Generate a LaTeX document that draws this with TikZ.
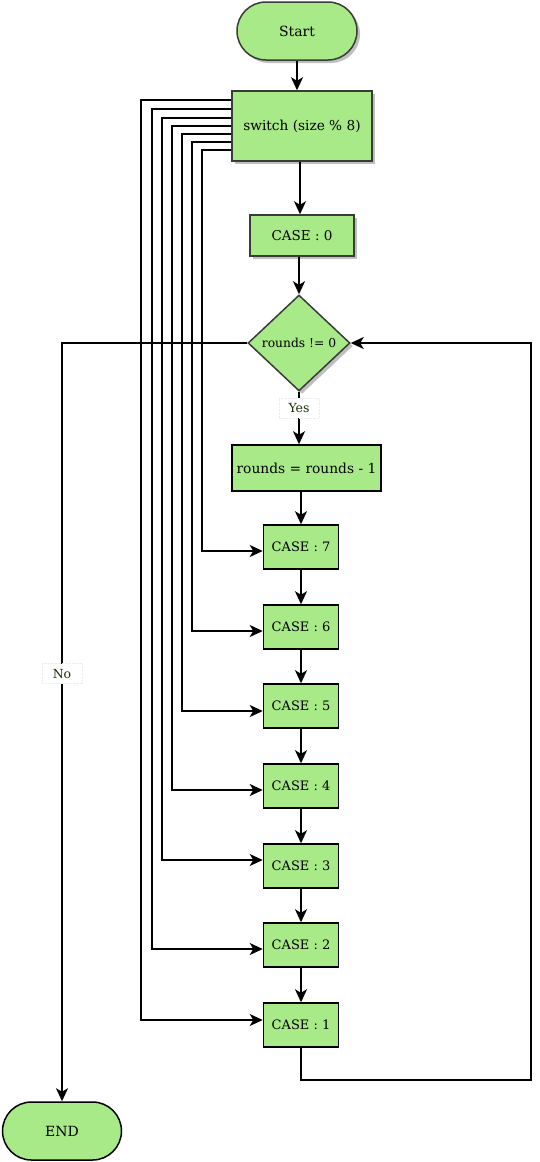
\documentclass[tikz,border=0pt]{standalone}
\usepackage{fontspec}
\setmainfont{DejaVu Serif}
\usetikzlibrary{shapes.geometric,arrows.meta,shadows,calc}
\definecolor{boxgreen}{HTML}{A9EA88}
\definecolor{edgegray}{HTML}{3A3A3A}
\definecolor{labelgreen}{HTML}{1A3300}
\newcommand{\fsz}[1]{\fontsize{#1}{#1}\selectfont}
\begin{document}
\begin{tikzpicture}[x=1pt,y=-1pt,
  base/.style={fill=boxgreen, line width=1.5pt, draw=black, font=\fsz{13}, inner sep=0pt},
  shad/.style={draw=edgegray, drop shadow={shadow xshift=3pt, shadow yshift=-3pt, fill=black!25, opacity=1}},
  term/.style={base, rectangle, rounded corners=29pt, minimum width=120pt, minimum height=58pt, font=\fsz{14}},
  proc/.style={base, rectangle},
  casebox/.style={proc, minimum width=75pt, minimum height=44pt, font=\fsz{13}},
  dec/.style={base, diamond, minimum width=102pt, minimum height=96pt, font=\fsz{12.3}},
  arr/.style={line width=1.7pt, -{Stealth[length=13pt,width=12pt,inset=3.5pt]}},
  lbl/.style={fill=white, draw=black!7, densely dotted, line width=0.4pt, minimum width=40pt, minimum height=20pt, inner sep=0pt, text=labelgreen, font=\fsz{12.5}}
]
\useasboundingbox (0,0) rectangle (540,1162);

% nodes
\node[term, shad] (start) at (297,31) {Start};
\node[proc, shad, minimum width=140pt, minimum height=70pt, font=\fsz{13.7}] (sw) at (302,126) {switch (size \% 8)};
\node[proc, shad, minimum width=104pt, minimum height=41pt, font=\fsz{13.5}] (c0) at (302,235.5) {CASE : 0};
\node[dec, shad] (dia) at (299,343) {rounds != 0};
\node[proc, minimum width=149pt, minimum height=46pt, font=\fsz{13.8}] (rd) at (306.5,468) {rounds = rounds - 1};
\node[casebox] (c7) at (301,547) {CASE : 7};
\node[casebox] (c6) at (301,627) {CASE : 6};
\node[casebox] (c5) at (301,706) {CASE : 5};
\node[casebox] (c4) at (301,786) {CASE : 4};
\node[casebox] (c3) at (301,866) {CASE : 3};
\node[casebox] (c2) at (301,945) {CASE : 2};
\node[casebox] (c1) at (301,1025) {CASE : 1};
\node[term, minimum width=119pt] (end) at (62,1131) {END};

\coordinate (mx) at (300,0);
\coordinate (loopc) at (531,1080);

% main flow
\draw[arr] (start.south) -- (start.south |- sw.north);
\draw[arr] (sw.south -| mx) -- (c0.north -| mx);
\draw[arr] (c0.south -| dia) -- (dia.north);
\draw[arr] (dia.south) -- node[lbl, pos=0.31] (yes) {Yes} (rd.north -| dia);
\draw[arr] (rd.south -| c7) -- (c7.north);
\draw[arr] (c7.south) -- (c6.north);
\draw[arr] (c6.south) -- (c5.north);
\draw[arr] (c5.south) -- (c4.north);
\draw[arr] (c4.south) -- (c3.north);
\draw[arr] (c3.south) -- (c2.north);
\draw[arr] (c2.south) -- (c1.north);

% loop back
\draw[arr] (c1.south) |- (loopc) |- (dia.east);

% exit
\draw[arr] (dia.west) -| node[lbl, pos=0.718] (no) {No} (end.north);

% switch branches
\foreach \dy/\vx/\tg/\ty in {60/202/c7/4, 52/192/c6/4, 44/182/c5/5, 36/172/c4/4, 28/162/c3/-6, 19/152/c2/4, 10/141/c1/-5}{
  \draw[arr] ($(sw.north west)+(0,\dy)$) coordinate (a) -- (a -| \vx,0) |- ($(\tg.west)+(0,\ty)$);
}
\end{tikzpicture}
\end{document}
